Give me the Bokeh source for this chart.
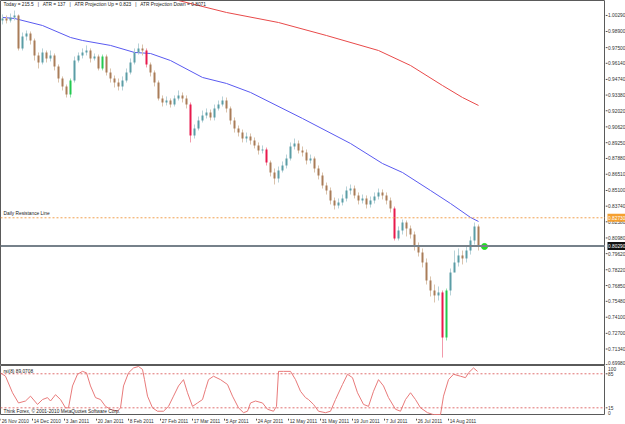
from bokeh.plotting import figure
from bokeh.layouts import column, row
from bokeh.models import ColumnDataSource, Span, Label, Range1d
from bokeh.core.properties import value
from bokeh.embed import file_html
from bokeh.resources import INLINE

FONT = "Liberation Sans"
FS = "4.8px"
TXT = "#303030"

# ---------------- data ----------------
date_labels = ["26 Nov 2010", "14 Dec 2010", "3 Jan 2011", "20 Jan 2011", "8 Feb 2011",
               "27 Feb 2011", "17 Mar 2011", "5 Apr 2011", "24 Apr 2011", "12 May 2011",
               "31 May 2011", "19 Jun 2011", "7 Jul 2011", "26 Jul 2011", "14 Aug 2011"]
date_tick_bars = [0, 8, 16, 24, 32, 40, 48, 56, 64, 72, 80, 88, 96, 104, 112]

first_open = 0.9986
close = [1.0003, 0.9986, 1.0012, 1.0029, 0.9743, 0.9847, 0.9873, 0.9812, 0.9682, 0.9621,
         0.9708, 0.9656, 0.9682, 0.9586, 0.9482, 0.9413, 0.9343, 0.9465, 0.9638, 0.9682,
         0.9708, 0.9725, 0.9656, 0.9673, 0.9569, 0.9673, 0.9534, 0.9482, 0.9447, 0.9413,
         0.9465, 0.9534, 0.9621, 0.9708, 0.9743, 0.9725, 0.9604, 0.9534, 0.9447, 0.9309,
         0.9274, 0.9291, 0.9256, 0.9309, 0.9335, 0.9309, 0.9256, 0.8987, 0.9048, 0.9118,
         0.9161, 0.9187, 0.9144, 0.9222, 0.9256, 0.9291, 0.9222, 0.9118, 0.9048, 0.9013,
         0.8961, 0.8979, 0.8944, 0.8901, 0.8857, 0.8866, 0.8753, 0.8666, 0.8614, 0.8684,
         0.8727, 0.8788, 0.8892, 0.8918, 0.8857, 0.8840, 0.8770, 0.8788, 0.8701, 0.8640,
         0.8553, 0.8510, 0.8423, 0.8380, 0.8406, 0.8441, 0.8510, 0.8527, 0.8467, 0.8423,
         0.8441, 0.8389, 0.8423, 0.8458, 0.8493, 0.8467, 0.8423, 0.8354, 0.8093, 0.8163,
         0.8232, 0.8180, 0.8128, 0.8033, 0.7972, 0.7885, 0.7729, 0.7642, 0.7599, 0.7625,
         0.7234, 0.7642, 0.7798, 0.7885, 0.7946, 0.7920, 0.7989, 0.8076, 0.8198, 0.8029]
high = [1.0038, 1.0029, 1.0046, 1.0072, 1.0038, 0.9881, 0.9899, 0.9890, 0.9829, 0.9708,
        0.9743, 0.9725, 0.9725, 0.9699, 0.9604, 0.9500, 0.9430, 0.9482, 0.9673, 0.9708,
        0.9743, 0.9769, 0.9743, 0.9699, 0.9690, 0.9690, 0.9690, 0.9569, 0.9508, 0.9482,
        0.9500, 0.9569, 0.9656, 0.9743, 0.9786, 0.9777, 0.9743, 0.9621, 0.9552, 0.9465,
        0.9335, 0.9326, 0.9309, 0.9335, 0.9378, 0.9361, 0.9335, 0.9274, 0.9083, 0.9152,
        0.9204, 0.9222, 0.9213, 0.9256, 0.9291, 0.9326, 0.9317, 0.9239, 0.9144, 0.9074,
        0.9039, 0.9013, 0.9005, 0.8970, 0.8927, 0.8901, 0.8883, 0.8770, 0.8701, 0.8718,
        0.8762, 0.8822, 0.8927, 0.8961, 0.8944, 0.8892, 0.8866, 0.8822, 0.8805, 0.8727,
        0.8666, 0.8579, 0.8536, 0.8449, 0.8441, 0.8475, 0.8545, 0.8562, 0.8553, 0.8493,
        0.8475, 0.8467, 0.8458, 0.8493, 0.8527, 0.8519, 0.8493, 0.8449, 0.8371, 0.8198,
        0.8258, 0.8250, 0.8206, 0.8154, 0.8059, 0.8007, 0.7920, 0.7764, 0.7694, 0.7677,
        0.7642, 0.7659, 0.7833, 0.7989, 0.8007, 0.7989, 0.8024, 0.8111, 0.8232, 0.8215]
low = [0.9951, 0.9960, 0.9968, 0.9986, 0.9725, 0.9725, 0.9812, 0.9777, 0.9638, 0.9569,
       0.9604, 0.9621, 0.9630, 0.9552, 0.9447, 0.9378, 0.9317, 0.9317, 0.9447, 0.9621,
       0.9656, 0.9682, 0.9621, 0.9638, 0.9552, 0.9552, 0.9508, 0.9447, 0.9404, 0.9378,
       0.9378, 0.9447, 0.9517, 0.9604, 0.9690, 0.9682, 0.9578, 0.9500, 0.9413, 0.9291,
       0.9239, 0.9248, 0.9230, 0.9239, 0.9291, 0.9274, 0.9222, 0.8927, 0.8961, 0.9031,
       0.9100, 0.9135, 0.9118, 0.9118, 0.9204, 0.9239, 0.9187, 0.9083, 0.9013, 0.8979,
       0.8927, 0.8927, 0.8909, 0.8875, 0.8822, 0.8831, 0.8727, 0.8632, 0.8562, 0.8579,
       0.8666, 0.8701, 0.8770, 0.8866, 0.8831, 0.8805, 0.8736, 0.8744, 0.8666, 0.8606,
       0.8527, 0.8475, 0.8389, 0.8345, 0.8354, 0.8380, 0.8415, 0.8475, 0.8441, 0.8389,
       0.8397, 0.8354, 0.8362, 0.8397, 0.8432, 0.8432, 0.8389, 0.8319, 0.8076, 0.8076,
       0.8128, 0.8111, 0.8093, 0.7989, 0.7937, 0.7842, 0.7694, 0.7590, 0.7538, 0.7555,
       0.7060, 0.7208, 0.7599, 0.7816, 0.7850, 0.7868, 0.7885, 0.7954, 0.8041, 0.7989]
strong_down = [36, 47, 66, 98, 110]
strong_up = [17, 25, 111]

fast_ma_bar = [0, 3, 10, 17, 20, 27, 33, 37, 42, 50, 56, 62, 75, 87, 95, 100, 107, 112, 117, 119]
fast_ma = [1.0012, 1.0003, 0.9942, 0.9838, 0.9812, 0.9769, 0.9708, 0.9699, 0.9638, 0.9491,
           0.9439, 0.9361, 0.9135, 0.8918, 0.8744, 0.8666, 0.8510, 0.8397, 0.8276, 0.8241]
slow_ma_bar = [40, 44, 56, 69, 81, 94, 102, 110, 115, 119]
slow_ma = [1.0194, 1.0159, 1.0055, 0.9968, 0.9855, 0.9725, 0.9595, 0.9421, 0.9317, 0.9248]

osc_bar = [-0.5, 0.75, 2.5, 4, 5.75, 7, 8.75, 10, 11.25, 12, 13.25, 14.5, 15.75, 16.5, 17.5,
           18.75, 20, 21, 22, 23.25, 24.5, 25.75, 27, 28.75, 29.5, 30.25, 31.5, 32.75, 34,
           35, 35.5, 36.25, 37.5, 38.75, 40.25, 41.5, 42.75, 44, 45.25, 46.25, 47.5, 48.75,
           50, 50.75, 51.5, 52.75, 54.5, 56.25, 57.5, 59, 60.25, 61.25, 62, 63.25, 65, 66.25,
           67.75, 68.5, 69, 70.25, 72, 73.25, 74.5, 75.75, 76.5, 77.75, 79, 80.75, 82, 83.25,
           85, 86.25, 87.5, 88.75, 90.25, 91.5, 92.75, 94, 95.25, 96.5, 98.25, 99.5, 100.75,
           102, 103.25, 104.5, 106.25, 107.75, 109.5, 110.25, 111.5, 112.75, 114.5, 115.75,
           116.5, 117.75, 118.75]
osc_val = [87, 80, 46, 25, 29, 39, 22, 32, 36, 29, 42, 32, 15, 15, 60, 84, 90, 87, 60, 36,
           32, 18, 12, 8, 15, 60, 87, 97, 100, 94, 73, 39, 15, 8, 8, 18, 39, 60, 73, 46,
           18, 25, 32, 53, 73, 80, 73, 63, 39, 15, 5, 8, 25, 29, 25, 12, 8, 18, 90, 90,
           90, 73, 49, 36, 32, 22, 8, 5, 8, 32, 63, 84, 77, 46, 22, 18, 49, 73, 60, 36,
           12, 8, 32, 46, 32, 15, 5, 1, 1, 39, 73, 84, 80, 77, 87, 97, 90]

price_ticks = [1.0029, 0.9890, 0.9750, 0.9614, 0.9474, 0.9338, 0.9202, 0.9062, 0.8925,
               0.8788, 0.8651, 0.8510, 0.8374, 0.8238, 0.8098, 0.7962, 0.7822, 0.7685,
               0.7548, 0.7410, 0.7270, 0.7134, 0.6998]
resistance = 0.8273
last_price = 0.8029
marker_bar = 120.5
marker_price = 0.8024
osc_levels = [85, 15]
SEP = " \u00a0\u00a0|\u00a0\u00a0 "
info_text = SEP.join(["Today = 215.5", "ATR = 137", "ATR Projection Up = 0.823",
                      "ATR Projection Down = 0.8071"])
osc_title = "rsi(8) 89.0708"
copyright_text = "Think Forex, \u00a9 2001-2010 MetaQuotes Software Corp."

# ---------------- helpers ----------------
def base_fig(fw, fh, xr, yr):
    f = figure(frame_width=fw, frame_height=fh, x_range=xr, y_range=yr,
               output_backend="svg", toolbar_location=None,
               x_axis_location=None, y_axis_location=None,
               min_border_left=0, min_border_right=0, min_border_top=0, min_border_bottom=0)
    f.grid.visible = False
    f.background_fill_color = "white"
    f.border_fill_color = "white"
    return f

# ---------------- candles ----------------
n = len(close)
bars = list(range(n))
opens = [first_open] + close[:-1]
body_col, wick_col = [], []
for i in bars:
    if i in strong_down:
        body_col.append("#e8194c"); wick_col.append("#f29aab")
    elif i in strong_up:
        body_col.append("#22c94f"); wick_col.append("#95e2ad")
    elif close[i] >= opens[i]:
        body_col.append("#5b9da6"); wick_col.append("#b7d2d8")
    else:
        body_col.append("#a97c58"); wick_col.append("#dac3ac")

src = ColumnDataSource(dict(
    x=bars, high=high, low=low,
    top=[max(o, c) for o, c in zip(opens, close)],
    bottom=[min(o, c) for o, c in zip(opens, close)],
    body=body_col, wick=wick_col))

FW = 605
xr = Range1d(-0.5, -0.5 + FW / 4.0)
yr_main = Range1d(0.6991, 1.0159)
yr_osc = Range1d(-0.8, 102.06)

# ---------------- main price panel ----------------
p = base_fig(FW, 365, xr, yr_main)
p.outline_line_color = "#5a5a5a"

p.line(slow_ma_bar, slow_ma, line_color="#e84a4a", line_width=1)
p.line(fast_ma_bar, fast_ma, line_color="#5a5af0", line_width=1)
p.segment(x0="x", y0="high", x1="x", y1="low", line_color="wick", line_width=1, source=src)
p.vbar(x="x", width=0.5, top="top", bottom="bottom", fill_color="body", line_color=None,
       source=src)

p.add_layout(Span(location=resistance, dimension="width", line_color="#f2a050",
                  line_dash="2 2", line_width=1))
p.add_layout(Span(location=last_price, dimension="width", line_color="#76818a",
                  line_width=2))
p.add_layout(Span(location=yr_main.start, dimension="width", line_color="#5a5a5a",
                  line_width=3))
p.scatter([marker_bar], [marker_price], size=6, color="#22dd22")

p.add_layout(Label(x=0.25, y=1.0150, text=info_text, text_font=FONT, text_font_size=FS,
                   text_color="#202020", text_baseline="top"))
p.add_layout(Label(x=0.25, y=resistance + 0.0012, text="Daily Resistance Line",
                   text_font=FONT, text_font_size=FS, text_color="#202020",
                   text_baseline="bottom"))

# ---------------- price scale strip (right) ----------------
pr = base_fig(20, 365, Range1d(0, 20), yr_main)
pr.outline_line_color = None
m = len(price_ticks)
pr.segment(x0=[0] * m, y0=price_ticks, x1=[2] * m, y1=price_ticks, line_color="#505050")
pr.text(x=[2.6] * (m - 1), y=price_ticks[:-1], text=["%.5f" % t for t in price_ticks[:-1]],
        text_font=value(FONT), text_font_size=value(FS), text_color=TXT,
        text_baseline="middle", text_align="left")
pr.text(x=[2.6], y=price_ticks[-1:], text=["%.5f" % price_ticks[-1]],
        text_font=value(FONT), text_font_size=value(FS), text_color=TXT,
        text_baseline="bottom", text_align="left")
pr.rect(x=[10.9], y=[resistance], width=17.8, height=8, height_units="screen",
        fill_color="#f5a030", line_color=None)
pr.text(x=[2.6], y=[resistance], text=["%.5f" % resistance], text_font=value(FONT),
        text_font_size=value(FS), text_color="white", text_baseline="middle",
        text_align="left")
pr.rect(x=[10.9], y=[last_price], width=17.8, height=8, height_units="screen",
        fill_color="#101010", line_color=None)
pr.text(x=[2.6], y=[last_price], text=["%.5f" % last_price], text_font=value(FONT),
        text_font_size=value(FS), text_color="white", text_baseline="middle",
        text_align="left")

# ---------------- oscillator panel ----------------
q = base_fig(FW, 50, xr, yr_osc)
q.outline_line_color = "#5a5a5a"
for lv in osc_levels:
    q.add_layout(Span(location=lv, dimension="width", line_color="#e07070",
                      line_dash="2 2", line_width=1))
q.line(osc_bar, osc_val, line_color="#e87a7a", line_width=1)
q.add_layout(Label(x=0.25, y=89, text=osc_title, text_font=FONT, text_font_size=FS,
                   text_color="#202020", text_baseline="middle"))
q.add_layout(Label(x=0.25, y=7.5, text=copyright_text, text_font=FONT, text_font_size=FS,
                   text_color="#202020", text_baseline="middle"))

qr = base_fig(20, 50, Range1d(0, 20), yr_osc)
qr.outline_line_color = None
qr.segment(x0=[0, 0], y0=osc_levels, x1=[2, 2], y1=osc_levels, line_color="#505050")
qr.text(x=[2.6], y=[100], text=["100"], text_font=value(FONT), text_font_size=value(FS),
        text_color=TXT, text_baseline="top", text_align="left")
qr.text(x=[2.6, 2.6], y=osc_levels, text=[str(v) for v in osc_levels],
        text_font=value(FONT), text_font_size=value(FS), text_color=TXT,
        text_baseline="middle", text_align="left")
qr.text(x=[2.6], y=[0], text=["0"], text_font=value(FONT), text_font_size=value(FS),
        text_color=TXT, text_baseline="bottom", text_align="left")

# ---------------- date strip (bottom) ----------------
d = base_fig(FW, 9, xr, Range1d(0, 9))
d.outline_line_color = None
tick_pos = [b - 0.5 for b in date_tick_bars]
k = len(tick_pos)
d.segment(x0=tick_pos, y0=[9] * k, x1=tick_pos, y1=[7] * k, line_color="#505050")
d.text(x=[t + 0.3 for t in tick_pos], y=[8.6] * k, text=date_labels,
       text_font=value(FONT), text_font_size=value(FS), text_color=TXT,
       text_baseline="top", text_align="left")

layout = row(column(p, q, d, spacing=0), column(pr, qr, spacing=0), spacing=0)
open("out.html", "w").write(file_html(layout, INLINE))
